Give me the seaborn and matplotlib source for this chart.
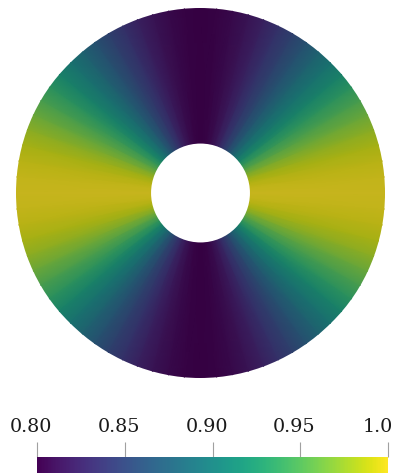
import numpy as np
import seaborn as sns
import matplotlib.pyplot as plt
from matplotlib.patches import Circle
from matplotlib.colors import ListedColormap, Normalize
from matplotlib.cm import ScalarMappable

# field value around the ring
# (degrees, counter-clockwise from +x, every 5 degrees)
angles_deg = list(range(0, 365, 5))
values = [
    1.0, 0.998, 0.994, 0.987, 0.977, 0.964, 0.95, 0.934, 0.917, 0.90,
    0.883, 0.866, 0.85, 0.836, 0.823, 0.813, 0.806, 0.802, 0.80,
    0.802, 0.806, 0.813, 0.823, 0.836, 0.85, 0.866, 0.883, 0.90,
    0.917, 0.934, 0.95, 0.964, 0.977, 0.987, 0.994, 0.998, 1.0,
    0.998, 0.994, 0.987, 0.977, 0.964, 0.95, 0.934, 0.917, 0.90,
    0.883, 0.866, 0.85, 0.836, 0.823, 0.813, 0.806, 0.802, 0.80,
    0.802, 0.806, 0.813, 0.823, 0.836, 0.85, 0.866, 0.883, 0.90,
    0.917, 0.934, 0.95, 0.964, 0.977, 0.987, 0.994, 0.998, 1.0,
]
tick_values = [0.80, 0.85, 0.90, 0.95, 1.0]
tick_labels = ["0.80", "0.85", "0.90", "0.95", "1.0"]

r_inner = 0.268
r_outer = 1.0

sns.set_style("white")
plt.rcParams['font.family'] = ['DejaVu Serif']

cmap = sns.color_palette("viridis", as_cmap=True)
# the ring is rendered with some shading, so its colours are a bit darker
shaded = ListedColormap(cmap(np.linspace(0, 1, 256))[:, :3] * 0.78)

fig = plt.figure(figsize=(3.98, 4.75), dpi=100)
W, H = 398, 475

ax = fig.add_axes([16 / W, (H - 378) / H, 369 / W, 370 / H])
th = np.deg2rad(np.array(angles_deg))
rr = np.array([r_inner * 0.9, r_outer * 1.02])
T, R = np.meshgrid(th, rr)
C = np.tile(np.array(values), (2, 1))
mesh = ax.pcolormesh(R * np.cos(T), R * np.sin(T), C, shading='gouraud',
                     cmap=shaded, vmin=0.8, vmax=1.0)
mesh.set_clip_path(Circle((0, 0), r_outer, transform=ax.transData))
ax.add_patch(Circle((0, 0), r_inner, facecolor='white', edgecolor='none', zorder=3))
ax.set_xlim(-1, 1)
ax.set_ylim(-1, 1)
ax.set_aspect('equal')
ax.axis('off')

cax = fig.add_axes([37 / W, (H - 472.7) / H, 351 / W, 16 / H])
sm = ScalarMappable(norm=Normalize(0.8, 1.0), cmap=cmap)
cb = fig.colorbar(sm, cax=cax, orientation='horizontal')
cb.outline.set_visible(False)
cb.set_ticks(tick_values)
cax.tick_params(axis='x', top=True, bottom=False, labeltop=False, labelbottom=False,
                length=10.8, width=0.8, color='#a0a0a0', direction='out')
for v, lbl in zip(tick_values, tick_labels):
    dx = -7.2 if lbl == "1.0" else -4.3
    cax.annotate(lbl, xy=(v, 1), xycoords=('data', 'axes fraction'),
                 xytext=(dx, 10.8 + 7.2), textcoords='offset points',
                 ha='center', va='baseline', fontsize=13.8, color='#1a1a1a')

fig.savefig("out.png", dpi=100)
